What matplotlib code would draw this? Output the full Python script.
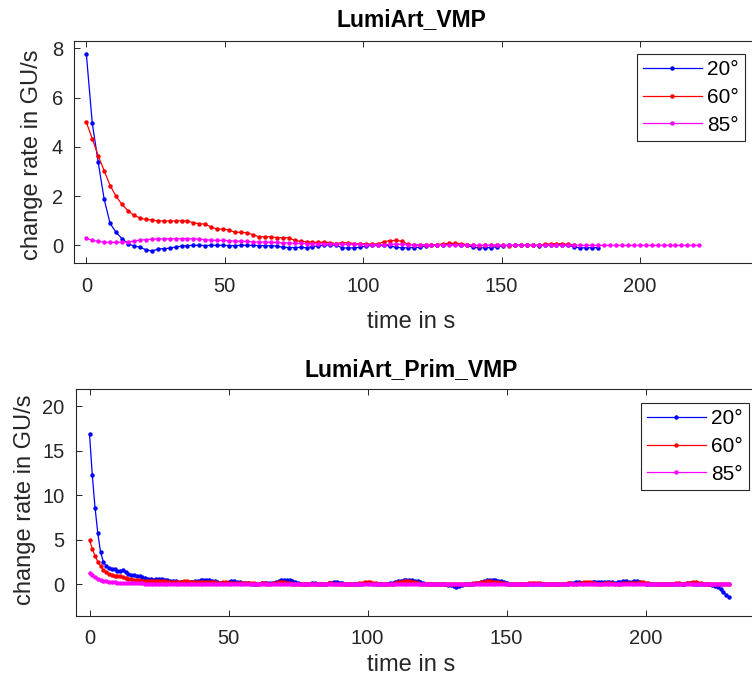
import numpy as np
import matplotlib
matplotlib.use('Agg')
import matplotlib.pyplot as plt

plt.rcParams['font.family'] = ['Liberation Sans', 'DejaVu Sans']

angles = ['20°', '60°', '85°']
colors = ['#0000ff', '#ff0000', '#ff00ff']

# LumiArt_VMP, one sample every ~2.15 s
dt_vmp = 2.15
vmp_20 = [7.78, 4.96, 3.37, 1.87, 0.89, 0.53, 0.27, 0.07, -0.03, -0.07, -0.18, -0.23, -0.16, -0.13, -0.12, -0.07, -0.03,
          -0.01, 0.0, 0.0, -0.01, 0.0, 0.0, 0.0, -0.01, -0.01, 0.0, 0.0, 0.0, -0.01, -0.01, -0.02, -0.03,
          -0.08, -0.09, -0.09, -0.08, -0.1,
          -0.05, -0.02, 0.0, 0.02, 0.0,
          -0.1, -0.11, -0.1, -0.08,
          -0.03, 0.0, 0.02, 0.0, -0.02,
          -0.08, -0.1, -0.1, -0.09, -0.08,
          -0.03, 0.0, 0.02, 0.03, 0.05, 0.04, 0.02, 0.0,
          -0.08, -0.1, -0.1, -0.09, -0.06,
          -0.02, 0.0, 0.0, 0.01, 0.0, 0.0, -0.01, 0.0, 0.02, 0.03, 0.02, 0.0,
          -0.07, -0.1, -0.1, -0.1, -0.09]
vmp_60 = [5.0, 4.33, 3.64, 3.03, 2.43, 1.99, 1.66, 1.41, 1.22, 1.11,
          1.05, 1.03, 0.99, 0.99, 0.99, 0.99, 0.99, 0.99, 0.91, 0.88,
          0.86, 0.74, 0.66, 0.66, 0.62, 0.53, 0.53, 0.51, 0.43, 0.35,
          0.35, 0.35, 0.31, 0.31, 0.31, 0.2, 0.16, 0.15, 0.12, 0.12,
          0.13, 0.11, 0.07, 0.11, 0.11, 0.07, 0.07,
          0.06, 0.05, 0.06, 0.15, 0.19, 0.2, 0.17, 0.05, 0.02, 0.01,
          0.02, 0.02, 0.03, 0.06, 0.08, 0.08, 0.07, 0.03, 0.0, -0.01,
          0.0, 0.0, 0.01, 0.0, -0.01, 0.0, 0.0, 0.01, 0.0, 0.0,
          0.04, 0.06, 0.07, 0.06, 0.05, 0.02]
vmp_85 = [0.29, 0.2, 0.16, 0.13, 0.12, 0.12, 0.13, 0.14, 0.17, 0.21,
          0.23, 0.25, 0.26, 0.26, 0.26, 0.27, 0.27, 0.27, 0.26, 0.25,
          0.23, 0.21, 0.2, 0.2, 0.19, 0.17, 0.17, 0.16, 0.14, 0.13,
          0.13, 0.12, 0.12, 0.1, 0.1, 0.08,
          0.08, 0.07, 0.07, 0.06, 0.06, 0.05, 0.05, 0.05, 0.04, 0.04,
          0.04, 0.03, 0.03, 0.03, 0.03, 0.04, 0.05, 0.04, 0.03, 0.02,
          0.02, 0.02, 0.01, 0.01, 0.01,
          0.01, 0.01, 0.0, 0.0, 0.0, 0.0, 0.01, 0.0, 0.0, 0.0,
          0.0, 0.0, 0.0, 0.01, 0.0, 0.0, 0.0, 0.0, 0.0, 0.0,
          0.0, 0.01, 0.0, 0.0, 0.0, 0.0, 0.0, 0.0, 0.0, 0.0,
          0.0, 0.0, 0.0, 0.0, 0.0, 0.0, 0.0, 0.0, 0.0, 0.0,
          0.0, 0.0, 0.0]

# LumiArt_Prim_VMP, one sample per second
dt_prim = 1.0
prim_20 = [16.9, 12.25, 8.57, 5.69, 3.55, 2.5,
           2.0, 1.83, 1.7, 1.7, 1.5, 1.5, 1.55,
           1.3, 1.1, 1.05, 1.0, 0.9, 0.85, 0.75,
           0.7, 0.6, 0.55, 0.5, 0.6, 0.6, 0.55, 0.5, 0.4, 0.35,
           0.3, 0.3, 0.25, 0.25, 0.2, 0.2, 0.2, 0.25, 0.3, 0.35,
           0.4, 0.4, 0.45, 0.4, 0.35, 0.3, 0.2, 0.15, 0.15, 0.15,
           0.2, 0.3, 0.3, 0.25, 0.2, 0.15, 0.1, 0.1, 0.05, 0.05,
           0.05, 0.05, 0.1, 0.15, 0.15, 0.1, 0.1, 0.2, 0.3, 0.4,
           0.45, 0.5, 0.45, 0.3, 0.2, 0.1, 0.05, 0.0, 0.0, 0.05,
           0.1, 0.1, 0.05, 0.0, 0.0, 0.05, 0.1, 0.15, 0.2, 0.2,
           0.15, 0.1, 0.05, 0.0, 0.0, 0.0, 0.05, 0.05, 0.05, 0.1,
           0.1, 0.1, 0.05, 0.0, 0.0, 0.0, 0.05, 0.05, 0.1, 0.15,
           0.2, 0.3, 0.35, 0.4, 0.45, 0.4, 0.4, 0.35, 0.3, 0.2,
           0.1, 0.05, 0.0, 0.0, 0.05, 0.05, 0.0, 0.0, -0.05, -0.1,
           -0.15, -0.25, -0.3, -0.2, -0.1, 0.0, 0.0, 0.05, 0.05, 0.1,
           0.15, 0.2, 0.3, 0.4, 0.45, 0.45, 0.4, 0.35, 0.3, 0.2,
           0.1, 0.05, 0.0, 0.0, 0.0, 0.0, 0.05, 0.05, 0.0, 0.0,
           0.0, 0.0, 0.05, 0.05, 0.0, 0.0, 0.0, 0.05, 0.05, 0.0,
           0.0, 0.0, 0.05, 0.1, 0.15, 0.2, 0.2, 0.15, 0.1, 0.1,
           0.15, 0.2, 0.25, 0.25, 0.2, 0.2, 0.25, 0.25, 0.2, 0.15,
           0.2, 0.25, 0.3, 0.3, 0.25, 0.25, 0.3, 0.3, 0.2, 0.1,
           0.05, 0.0, 0.0, 0.0, 0.05, 0.05, 0.0, 0.0, 0.0, 0.05,
           0.05, 0.05, 0.0, 0.0, 0.05, 0.1, 0.1, 0.05, 0.0, 0.0,
           0.0, 0.0, 0.0, -0.05, -0.1, -0.2, -0.3, -0.6, -0.9, -1.2, -1.5]
prim_60 = [4.94, 3.97, 3.15, 2.5, 2.02, 1.57, 1.3, 1.1, 0.97, 0.95,
           0.9, 0.85, 0.8, 0.7, 0.62, 0.55, 0.5, 0.45, 0.4, 0.38,
           0.35, 0.33, 0.3, 0.3, 0.3, 0.35, 0.35, 0.3, 0.25, 0.25,
           0.25, 0.2, 0.2, 0.25, 0.3, 0.3, 0.25, 0.2, 0.2, 0.25,
           0.25, 0.2, 0.2, 0.25, 0.25, 0.2, 0.15, 0.15, 0.2, 0.2,
           0.15, 0.15, 0.1, 0.1, 0.15, 0.15, 0.1, 0.1, 0.1, 0.1,
           0.05, 0.05, 0.1, 0.1, 0.05, 0.05, 0.1, 0.15, 0.2, 0.2,
           0.2, 0.15, 0.1, 0.05, 0.05, 0.0, 0.0, 0.05, 0.05, 0.0,
           0.0, 0.05, 0.05, 0.0, 0.0, 0.05, 0.1, 0.1, 0.05, 0.0,
           0.0, 0.05, 0.05, 0.0, 0.0, 0.0, 0.05, 0.1, 0.15, 0.2,
           0.2, 0.2, 0.15, 0.1, 0.05, 0.0, 0.0, 0.0, 0.05, 0.05,
           0.1, 0.2, 0.25, 0.3, 0.3, 0.3, 0.25, 0.2, 0.1, 0.05,
           0.0, 0.0, 0.05, 0.05, 0.0, 0.0, 0.0, 0.05, 0.05, 0.0,
           0.0, 0.0, 0.0, 0.05, 0.05, 0.0, 0.0, 0.05, 0.1, 0.1,
           0.15, 0.2, 0.25, 0.3, 0.3, 0.25, 0.25, 0.2, 0.15, 0.1,
           0.05, 0.0, 0.0, 0.05, 0.05, 0.0, 0.0, 0.05, 0.1, 0.1,
           0.15, 0.15, 0.1, 0.05, 0.0, 0.0, 0.05, 0.05, 0.0, 0.0,
           0.05, 0.05, 0.1, 0.1, 0.05, 0.05, 0.1, 0.15, 0.2, 0.2,
           0.2, 0.15, 0.1, 0.05, 0.05, 0.1, 0.15, 0.15, 0.1, 0.05,
           0.05, 0.05, 0.1, 0.15, 0.15, 0.1, 0.1, 0.15, 0.2, 0.2,
           0.15, 0.1, 0.05, 0.0, 0.0, 0.05, 0.05, 0.0, 0.0, 0.05,
           0.05, 0.1, 0.1, 0.05, 0.05, 0.1, 0.15, 0.2, 0.2, 0.15,
           0.1, 0.05, 0.05, 0.0, 0.0, 0.05, 0.05, 0.0, 0.0, 0.0, 0.0]
prim_85 = [1.27, 1.0, 0.77, 0.6, 0.45, 0.35, 0.3, 0.25, 0.2, 0.18,
           0.15, 0.13, 0.12, 0.1, 0.1, 0.09, 0.08, 0.08, 0.07, 0.07,
           0.06, 0.06, 0.06, 0.05, 0.05, 0.05, 0.05, 0.04, 0.04, 0.04,
           0.04, 0.04, 0.03, 0.03, 0.03, 0.03, 0.03, 0.03, 0.03, 0.03,
           0.02, 0.02, 0.02, 0.02, 0.02, 0.02, 0.02, 0.02, 0.02, 0.02,
           0.02, 0.02, 0.01, 0.01, 0.01, 0.01, 0.01, 0.01, 0.01, 0.01,
           0.01, 0.01, 0.01, 0.01, 0.01, 0.01, 0.01, 0.01, 0.01, 0.01,
           0.01, 0.01, 0.01, 0.01, 0.01, 0.01, 0.01, 0.01, 0.01, 0.01,
           0.01, 0.01, 0.01, 0.01, 0.01, 0.01, 0.01, 0.01, 0.01, 0.01,
           0.01, 0.01, 0.01, 0.01, 0.01, 0.01, 0.01, 0.01, 0.01, 0.01,
           0.01, 0.01, 0.01, 0.01, 0.01, 0.0, 0.0, 0.0, 0.0, 0.0,
           0.0, 0.0, 0.0, 0.0, 0.0, 0.0, 0.0, 0.0, 0.0, 0.0,
           0.0, 0.0, 0.0, 0.0, 0.0, 0.0, 0.0, 0.0, 0.0, 0.0,
           0.0, 0.0, 0.0, 0.0, 0.0, 0.0, 0.0, 0.0, 0.0, 0.0,
           0.0, 0.0, 0.0, 0.0, 0.0, 0.0, 0.0, 0.0, 0.0, 0.0,
           0.0, 0.0, 0.0, 0.0, 0.0, 0.0, 0.0, 0.0, 0.0, 0.0,
           0.0, 0.0, 0.0, 0.0, 0.0, 0.0, 0.0, 0.0, 0.0, 0.0,
           0.0, 0.0, 0.0, 0.0, 0.0, 0.0, 0.0, 0.0, 0.0, 0.0,
           0.0, 0.0, 0.0, 0.0, 0.0, 0.0, 0.0, 0.0, 0.0, 0.0,
           0.0, 0.0, 0.0, 0.0, 0.0, 0.0, 0.0, 0.0, 0.0, 0.0,
           0.0, 0.0, 0.0, 0.0, 0.0, 0.0, 0.0, 0.0, 0.0, 0.0,
           0.0, 0.0, 0.0, 0.0, 0.0, 0.0, 0.0, 0.0, 0.0, 0.0,
           0.0, 0.0, 0.0, 0.0, 0.0, 0.0, 0.0, 0.0, 0.0, 0.0, 0.0]

W, H = 752, 680
fig = plt.figure(figsize=(W / 100, H / 100), dpi=100)
axcol = '#262626'


def make_axes(left, top, bottom, xlim, ylim, yticks, px_per_s):
    # axes run off the right edge of the figure, like the original window
    width = (xlim[1] - xlim[0]) * px_per_s
    ax = fig.add_axes([left / W, 1 - bottom / H, width / W, (bottom - top) / H])
    ax.set_xlim(xlim)
    ax.set_ylim(ylim)
    ax.set_xticks([0, 50, 100, 150, 200])
    ax.set_yticks(yticks)
    ax.tick_params(direction='in', length=4, width=0.7, colors=axcol,
                   labelsize=14.5, top=True, right=True)
    ax.tick_params(axis='x', pad=10)
    ax.tick_params(axis='y', pad=8)
    for s in ax.spines.values():
        s.set_color(axcol)
        s.set_linewidth(0.8)
    return ax


def draw(ax, dt, series):
    for vals, c, lab in zip(series, colors, angles):
        t = np.arange(len(vals)) * dt
        ax.plot(t, vals, '-o', color=c, lw=0.9, ms=3.2, mew=0, label=lab)


ax1 = make_axes(74, 41, 263.3, (-4.45, 245), (-0.73, 8.3), [0, 2, 4, 6, 8], 2.768)
draw(ax1, dt_vmp, [vmp_20, vmp_60, vmp_85])
ax2 = make_axes(75.6, 389.3, 615.6, (-5.0, 245), (-3.55, 21.9), [0, 5, 10, 15, 20], 2.78)
draw(ax2, dt_prim, [prim_20, prim_60, prim_85])

for ax, title, ty, ly, yl_x, yl_y, leg_xy in [
        (ax1, 'LumiArt_VMP', 20, 322, 32, 155, (637, 54)),
        (ax2, 'LumiArt_Prim_VMP', 370, 665, 25, 500, (641, 403))]:
    fig.text(411 / W, 1 - ty / H, title, ha='center', va='center',
             fontsize=16.5, fontweight='bold', color='black')
    fig.text(411 / W, 1 - ly / H, 'time in s', ha='center', va='center',
             fontsize=17, color=axcol)
    fig.text(yl_x / W, 1 - yl_y / H, 'change rate in GU/s', ha='center', va='center',
             rotation=90, fontsize=17, color=axcol)
    leg = ax.legend(loc='upper left', bbox_to_anchor=(leg_xy[0] / W, 1 - leg_xy[1] / H),
                    bbox_transform=fig.transFigure, fontsize=15, numpoints=1,
                    handlelength=2.8, handletextpad=0.25, labelspacing=0.42,
                    borderpad=0.3, borderaxespad=0, fancybox=False, framealpha=1)
    leg.get_frame().set_edgecolor(axcol)
    leg.get_frame().set_linewidth(0.8)

fig.savefig('out.png', dpi=100)
